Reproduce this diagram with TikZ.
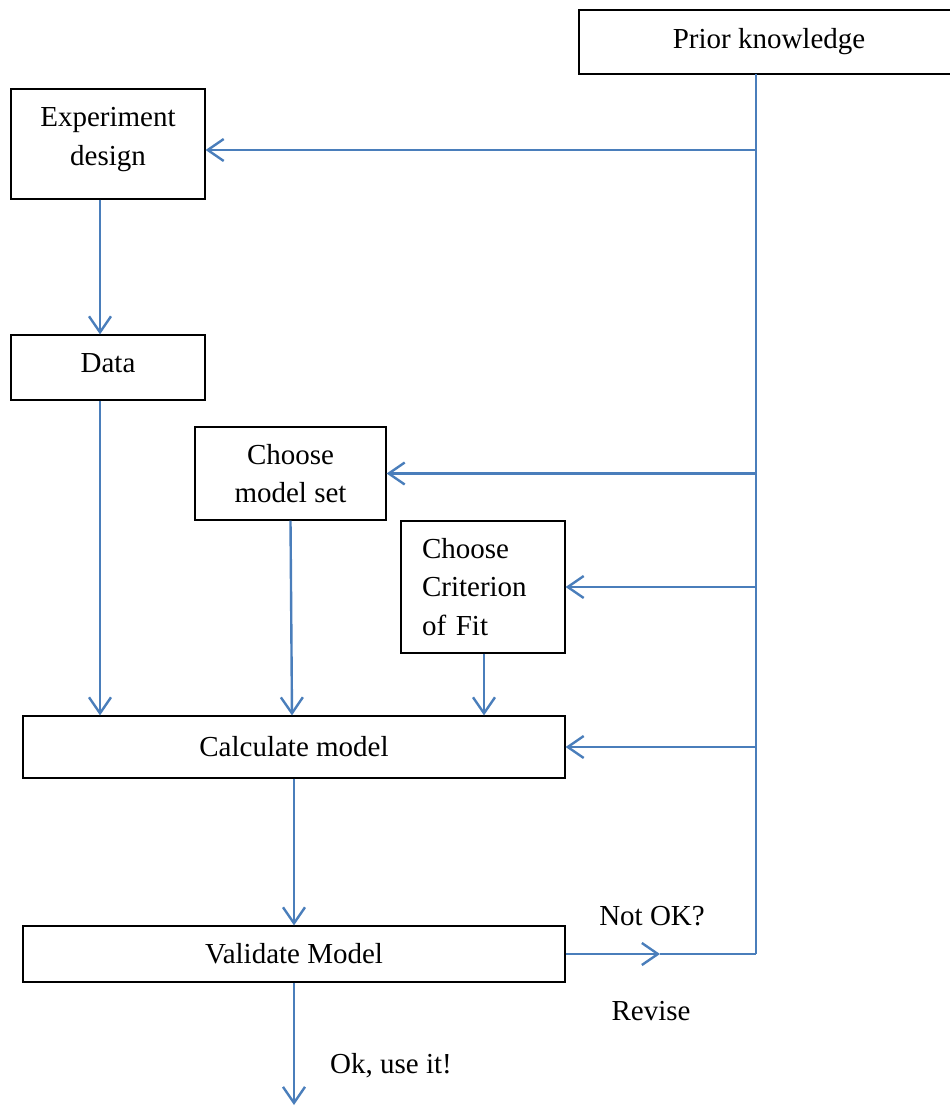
\documentclass[tikz,border=0pt]{standalone}
\usepackage{fontspec}
\setmainfont{Liberation Serif}
\usetikzlibrary{arrows.meta}

\definecolor{flowblue}{RGB}{74,126,187}

\tikzset{
    box/.style={draw=black, line width=1.2pt, inner sep=0pt, align=center},
    flow/.style={draw=flowblue, line width=2.4pt},
    flowarrow/.style={flow, -{Straight Barb[length=16pt,width=22pt,line width=2.4pt]}}
}

\begin{document}
\begin{tikzpicture}[x=1pt, y=-1pt, font=\fontsize{29}{38.5}\selectfont]
    \useasboundingbox (0,0) rectangle (950,1106);

    % Kaesten
    \node[box, minimum width=380, minimum height=64] (prior) at (769,42) {Prior knowledge};
    \node[box, minimum width=194, minimum height=110, text depth=15pt] (design) at (108,144) {Experiment\\design};
    \node[box, minimum width=194, minimum height=65, text depth=9pt] (data) at (108,367.5) {Data};
    \node[box, minimum width=191, minimum height=93] (modelset) at (290.5,473.5) {Choose\\model set};
    \node[box, minimum width=164, minimum height=132, text width=122, align=left] (criterion) at (483,587) {Choose\\Criterion\\of Fit};
    \node[box, minimum width=542, minimum height=62] (calc) at (294,747) {Calculate model};
    \node[box, minimum width=542, minimum height=56] (validate) at (294,954) {Validate Model};

    % Hilfspunkte
    \coordinate (trunk) at (756,74);
    \coordinate (revise) at (660,954);
    \coordinate (turn) at (756,954);
    \coordinate (done) at (294,1105);

    % Rueckfuehrung rechts
    \draw[flow] (trunk) -- (turn);
    \draw[flowarrow] (trunk |- 0,150) -- (design.east |- 0,150);
    \draw[flowarrow] (trunk |- modelset.east) -- (modelset.east);
    \draw[flowarrow] (trunk |- criterion.east) -- (criterion.east);
    \draw[flowarrow] (trunk |- calc.east) -- (calc.east);

    % Hauptfluss
    \draw[flowarrow] (design.south -| 100,0) -- (data.north -| 100,0);
    \draw[flowarrow] (data.south -| 100,0) -- (calc.north -| 100,0);
    \draw[flowarrow] (modelset.south) -- (calc.north -| 292,0);
    \draw[flowarrow] (criterion.south -| 484,0) -- (calc.north -| 484,0);
    \draw[flowarrow] (calc.south) -- (validate.north);
    \draw[flowarrow] (validate.east) -- (revise);
    \draw[flow] (revise) -- (turn);
    \draw[flowarrow] (validate.south) -- (done);

    % Beschriftung
    \node (notok) at (652,916) {Not OK?};
    \node (revtext) at (651,1011) {Revise};
    \node (okuse) at (391,1066) {Ok, use it!};
\end{tikzpicture}
\end{document}
